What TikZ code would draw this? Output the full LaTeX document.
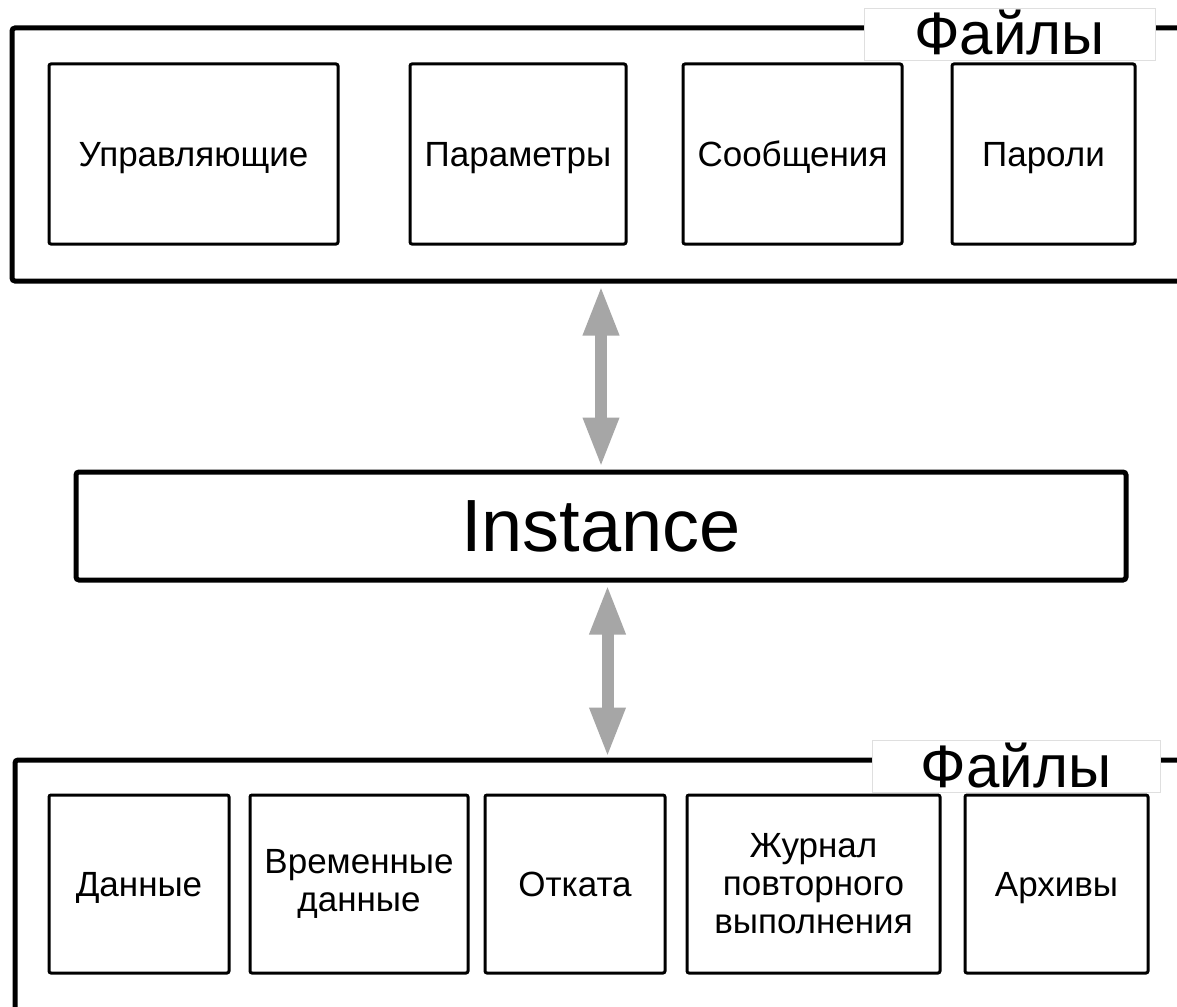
\documentclass[tikz,border=0pt]{standalone}
\usepackage{fontspec}
\setmainfont{Liberation Sans}
\usetikzlibrary{arrows.meta}

\begin{document}
\begin{tikzpicture}[x=0.5pt,y=-0.5pt]
\tikzstyle{filebox}=[draw,line width=1.5pt,rounded corners=1pt,inner sep=0pt,align=center,font=\fontsize{17.5}{19}\selectfont]
\tikzstyle{oneline}=[text height=12.6pt,text depth=0pt]
\tikzstyle{group}=[draw,line width=2.5pt,rounded corners=1.5pt,inner sep=0pt]
\tikzstyle{grouplabel}=[fill=white,draw=gray!25,line width=0.4pt,inner sep=0pt,text height=21pt,text depth=0pt,font=\fontsize{30}{32}\selectfont]
\tikzstyle{link}=[color=gray!70,line width=6pt,{Triangle[width=16.5pt,length=25pt]}-{Triangle[width=16.5pt,length=25pt]}]

\clip (0,0) rectangle (1177,1006);
\fill[white] (0,0) rectangle (1177,1006);

\node[group,minimum width=594pt,minimum height=126.5pt] (topfiles) at (606,154.5) {};
\node[grouplabel,minimum width=145.5pt,minimum height=26pt] (toplabel) at (1009.5,34) {Файлы};

\node[filebox,oneline,minimum width=144.5pt,minimum height=90pt] (ctl) at (193.5,154) {Управляющие};
\node[filebox,oneline,minimum width=108pt,minimum height=90pt] (par) at (518,154) {Параметры};
\node[filebox,oneline,minimum width=109.5pt,minimum height=90pt] (msg) at (792.5,154) {Сообщения};
\node[filebox,oneline,minimum width=91.5pt,minimum height=90pt] (pwd) at (1043.5,154) {Пароли};

\node[group,minimum width=525pt,minimum height=54pt,font=\fontsize{37}{40}\selectfont] (inst) at (601,526) {Instance};

\node[group,minimum width=592.5pt,minimum height=135pt] (botfiles) at (607.5,895) {};
\node[grouplabel,minimum width=144pt,minimum height=26pt] (botlabel) at (1016,766) {Файлы};

\node[filebox,oneline,minimum width=90pt,minimum height=89pt] (dat) at (139,884) {Данные};
\node[filebox,minimum width=109pt,minimum height=89pt] (tmp) at (359,884) {Временные\\данные};
\node[filebox,oneline,minimum width=90pt,minimum height=89pt] (undo) at (575,884) {Отката};
\node[filebox,minimum width=126.5pt,minimum height=89pt] (redo) at (813.5,884) {Журнал\\повторного\\выполнения};
\node[filebox,oneline,minimum width=91.5pt,minimum height=89pt] (arch) at (1056.5,884) {Архивы};

\draw[link,shorten <=1pt,shorten >=1pt] (inst.north |- topfiles.south) -- (inst.north);
\draw[link,shorten <=1pt] (botfiles.north |- inst.south) -- (botfiles.north);

\end{tikzpicture}
\end{document}
